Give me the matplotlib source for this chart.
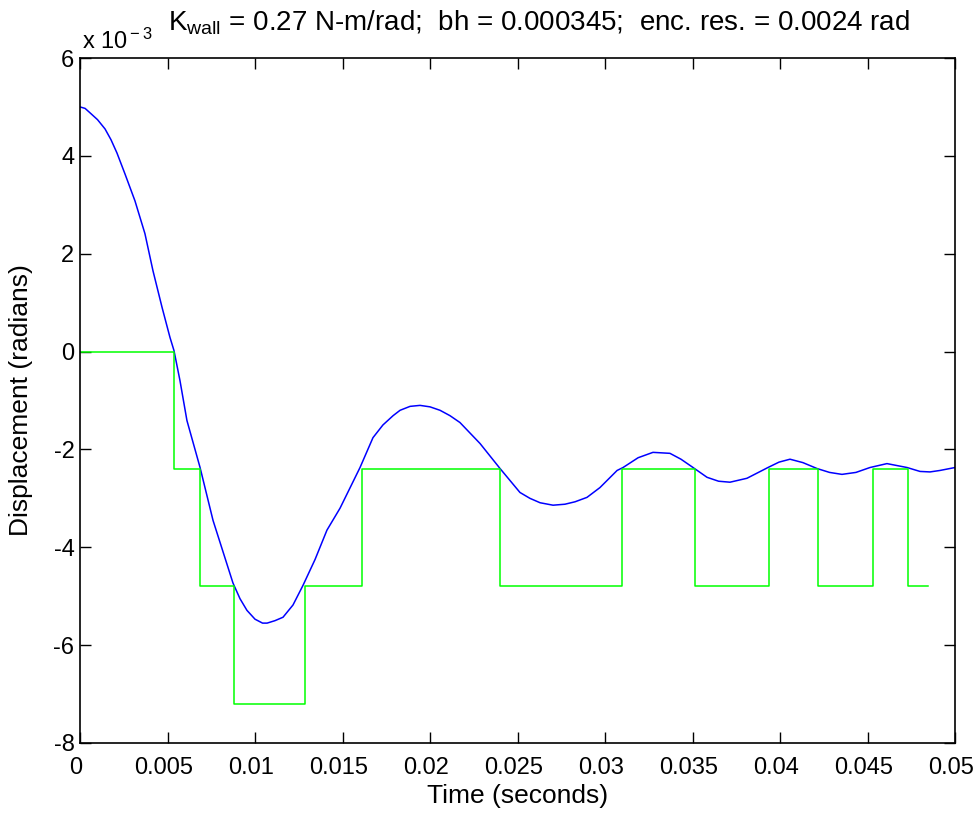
import numpy as np
import matplotlib
matplotlib.use("Agg")
import matplotlib.pyplot as plt
import matplotlib.transforms as mtransforms
from matplotlib.ticker import FuncFormatter

plt.rcParams['font.family'] = ['Liberation Sans', 'DejaVu Sans']
plt.rcParams['mathtext.fontset'] = 'custom'
plt.rcParams['mathtext.rm'] = 'Liberation Sans'
plt.rcParams['mathtext.it'] = 'Liberation Sans'

# simulated displacement (x 1e-3 rad)
t_sim = [0, 0.00029, 0.00057, 0.001, 0.00143, 0.00177, 0.00211, 0.00257, 0.00314,
         0.00371, 0.00417, 0.00469, 0.00514, 0.00537, 0.00571, 0.00611, 0.00686,
         0.0076, 0.00874, 0.00914, 0.00954, 0.01, 0.01043, 0.01069, 0.01114, 0.0116,
         0.01217, 0.01274, 0.01343, 0.01411, 0.01486, 0.016, 0.01674, 0.01731, 0.01789,
         0.01829, 0.01886, 0.01943, 0.02, 0.02057, 0.02114, 0.02171, 0.02286, 0.024,
         0.02514, 0.02571, 0.02629, 0.02703, 0.02771, 0.02829, 0.02897, 0.02971,
         0.03069, 0.03103, 0.03189, 0.03274, 0.03371, 0.03434, 0.03503, 0.03583,
         0.03649, 0.03714, 0.03811, 0.03931, 0.03994, 0.04057, 0.04131, 0.04211,
         0.04283, 0.04354, 0.04434, 0.04514, 0.04611, 0.04726, 0.048, 0.04857,
         0.04914, 0.05]
y_sim = [5.0, 4.97, 4.88, 4.74, 4.55, 4.33, 4.06, 3.63, 3.08,
         2.41, 1.65, 0.90, 0.29, 0.02, -0.59, -1.41, -2.37,
         -3.45, -4.73, -5.05, -5.29, -5.47, -5.55, -5.55, -5.5, -5.43,
         -5.18, -4.78, -4.25, -3.65, -3.2, -2.37, -1.76, -1.5, -1.31,
         -1.2, -1.12, -1.10, -1.13, -1.20, -1.31, -1.45, -1.88, -2.39,
         -2.88, -3.0, -3.09, -3.14, -3.12, -3.07, -2.98, -2.78,
         -2.43, -2.37, -2.17, -2.06, -2.08, -2.2, -2.37, -2.57,
         -2.65, -2.67, -2.59, -2.37, -2.26, -2.20, -2.27, -2.39,
         -2.47, -2.51, -2.47, -2.37, -2.29, -2.37, -2.45, -2.46,
         -2.43, -2.37]

# encoder reading (x 1e-3 rad)
t_enc = [0, 0.00539, 0.00686, 0.0088, 0.01286, 0.01611, 0.024, 0.03097, 0.03514,
         0.03937, 0.04217, 0.04531, 0.04731, 0.04846]
y_enc = [0, -2.4, -4.8, -7.2, -4.8, -2.4, -4.8, -2.4, -4.8, -2.4, -4.8, -2.4, -4.8, -4.8]

y_sim = np.array(y_sim) * 1e-3
y_enc = np.array(y_enc) * 1e-3

fig = plt.figure(figsize=(9.77, 8.17), dpi=100)
ax = fig.add_axes([0.0819, 0.0906, 0.8956, 0.8384])

ax.plot(t_sim, y_sim, color=(0.0, 0.0, 1.0), lw=1.1)
ax.step(t_enc, y_enc, where='post', color=(0.0, 1.0, 0.0), lw=1.1)

ax.set_xlim(0, 0.05)
ax.set_ylim(-8e-3, 6e-3)
ax.set_xticks(np.arange(0, 0.0501, 0.005))
ax.set_xticklabels(["0", "0.005", "0.01", "0.015", "0.02", "0.025", "0.03",
                    "0.035", "0.04", "0.045", "0.05"])
ax.set_yticks(np.arange(-8e-3, 6.01e-3, 2e-3))
ax.yaxis.set_major_formatter(FuncFormatter(lambda v, p: f"{v * 1e3:.0f}"))
ax.tick_params(direction='in', length=8, width=1, top=True, right=True,
               labelsize=17, pad=4)
ax.tick_params(axis='x', pad=10)
shift = mtransforms.ScaledTranslation(-4 / 100, 0, fig.dpi_scale_trans)
for lab in ax.get_xticklabels():
    lab.set_transform(lab.get_transform() + shift)
for s in ax.spines.values():
    s.set_linewidth(1.2)

ax.set_xlabel("Time (seconds)", fontsize=19, labelpad=4)
ax.set_ylabel("Displacement (radians)", fontsize=19, labelpad=0)
ax.yaxis.set_label_coords(-0.054, 0.5)
ax.set_title(r"K$_{\rm wall}$ = 0.27 N-m/rad;  bh = 0.000345;  enc. res. = 0.0024 rad",
             fontsize=20, pad=20, x=0.525)
ax.text(0.002, 1.006, r"x 10$^{\rm -3}$", transform=ax.transAxes, fontsize=17,
        ha='left', va='bottom')

fig.savefig("out.png", dpi=100)
